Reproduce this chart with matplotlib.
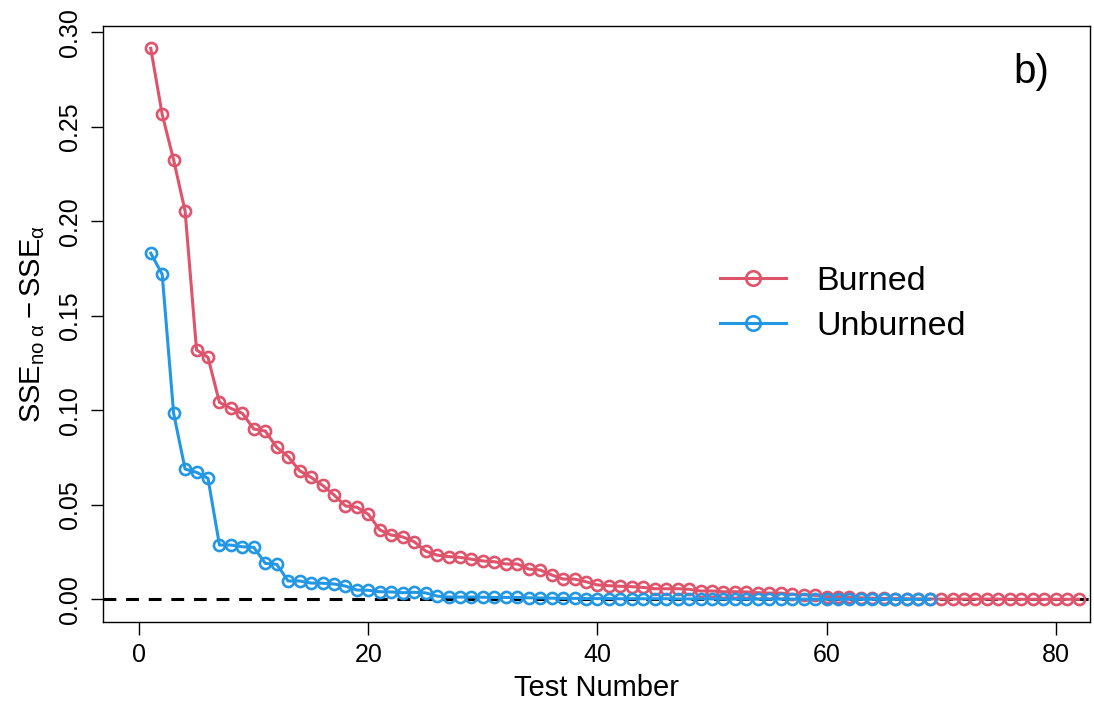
import matplotlib
matplotlib.use("Agg")
import matplotlib.pyplot as plt

plt.rcParams['font.family'] = ['Liberation Sans', 'DejaVu Sans']
plt.rcParams['mathtext.fontset'] = 'custom'
plt.rcParams['mathtext.rm'] = 'Liberation Sans'
plt.rcParams['mathtext.it'] = 'Liberation Sans:italic'

# SSE improvement per test, burned vs unburned sites
burned = [0.2915, 0.2566, 0.2324, 0.2054, 0.1319, 0.1280, 0.1042, 0.1010, 0.0984, 0.0901,
          0.0890, 0.0804, 0.0755, 0.0680, 0.0645, 0.0603, 0.0552, 0.0494, 0.0487, 0.0450,
          0.0367, 0.0340, 0.0330, 0.0305, 0.0255, 0.0234, 0.0226, 0.0222, 0.0212, 0.0203,
          0.0199, 0.0187, 0.0187, 0.0160, 0.0155, 0.0129, 0.0107, 0.0107, 0.0093, 0.0076,
          0.0072, 0.0069, 0.0067, 0.0063, 0.0056, 0.0056, 0.0056, 0.0053, 0.0044, 0.0044,
          0.0040, 0.0040, 0.0039, 0.0035, 0.0033, 0.0033, 0.0026, 0.0024, 0.0021, 0.0014,
          0.0014, 0.0012, 0.0008, 0.0006, 0.0005, 0.0004, 0.0003, 0.0002, 0.0002, 0.0001,
          0.0001, 0.0001, 0.0001, 0.0001, 0.0001, 0.0000, 0.0000, 0.0000, 0.0000, 0.0000,
          0.0000, 0.0000]
unburned = [0.1831, 0.1720, 0.0984, 0.0689, 0.0672, 0.0640, 0.0287, 0.0287, 0.0278, 0.0275,
            0.0190, 0.0185, 0.0097, 0.0097, 0.0086, 0.0085, 0.0081, 0.0070, 0.0049, 0.0048,
            0.0040, 0.0039, 0.0035, 0.0037, 0.0034, 0.0017, 0.0012, 0.0012, 0.0012, 0.0011,
            0.0010, 0.0010, 0.0010, 0.0008, 0.0007, 0.0006, 0.0005, 0.0005, 0.0004, 0.0004,
            0.0004, 0.0003, 0.0003, 0.0003, 0.0003, 0.0003, 0.0002, 0.0002, 0.0002, 0.0002,
            0.0001, 0.0001, 0.0001, 0.0001, 0.0001, 0.0001, 0.0001, 0.0001, 0.0001, 0.0000,
            0.0000, 0.0000, 0.0000, 0.0000, 0.0000, 0.0000, 0.0000, 0.0000, 0.0000]
series_names = ['Burned', 'Unburned']
colors = ['#DF536B', '#2297E6']
xticks = [0, 20, 40, 60, 80]
yticks = [0.00, 0.05, 0.10, 0.15, 0.20, 0.25, 0.30]

fig = plt.figure(figsize=(10.94, 7.04), dpi=100)
ax = fig.add_axes([103.3 / 1094, 1 - 622 / 704, (1090 - 103.3) / 1094, (622 - 26) / 704])

for vals, name, col in zip([burned, unburned], series_names, colors):
    x = list(range(1, len(vals) + 1))
    ax.plot(x, vals, color=col, lw=2.2, marker='o', ms=8, mfc='none',
            mew=1.9, label=name)

# reference line at zero
ax.axhline(0, color='black', lw=2.2, ls=(0, (4.2, 3.2)), zorder=1)

ax.set_xlim(-3.14, 83.0)
ax.set_ylim(-0.0120, 0.3033)
ax.set_xticks(xticks)
ax.set_yticks(yticks)
ax.set_xticklabels([str(t) for t in xticks])
ax.set_yticklabels(['%.2f' % t for t in yticks], rotation=90, va='center')
ax.tick_params(direction='out', length=9, width=1.0, labelsize=18, pad=6)
for s in ax.spines.values():
    s.set_linewidth(1.0)

ax.set_xlabel('Test Number', fontsize=21, labelpad=5)
ax.set_ylabel(r'$\mathrm{SSE_{no\ \alpha}-SSE_{\alpha}}$', fontsize=21, labelpad=8)

ax.text(76.3, 0.279, 'b)', fontsize=29, va='center', ha='left')

ax.legend(loc='center left', bbox_to_anchor=(720 / 1094, 1 - 304 / 704),
          bbox_transform=fig.transFigure, frameon=False, borderpad=0, borderaxespad=0,
          fontsize=24.5, handlelength=1.94, handletextpad=0.9, labelspacing=0.4,
          markerscale=1.3)

fig.savefig('out.png', dpi=100)
